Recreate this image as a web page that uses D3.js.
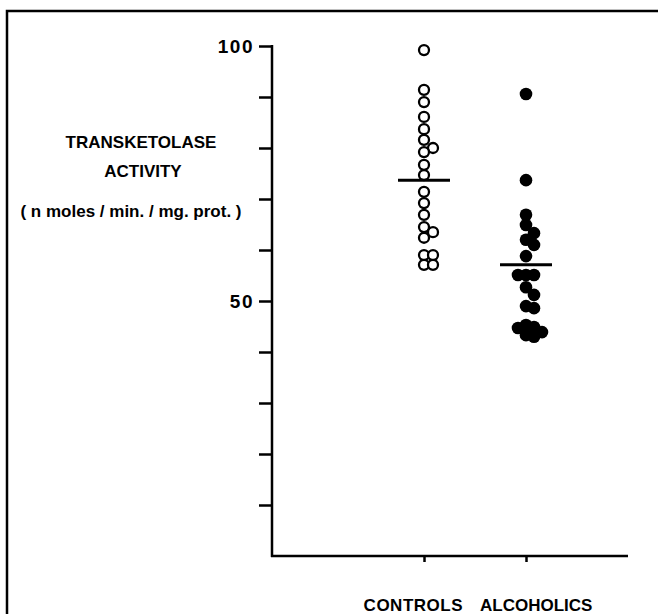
<!DOCTYPE html>
<html>
<head>
<meta charset="utf-8">
<script src="https://cdn.jsdelivr.net/npm/d3@7"></script>
<style>
  html, body { margin: 0; padding: 0; background: #fff; }
  text { font-family: "Liberation Sans", Arial, Helvetica, sans-serif; fill: #000; }
</style>
</head>
<body>
<svg id="chart" width="658" height="614"></svg>
<script>
// ---- data ----
const categories = ["CONTROLS", "ALCOHOLICS"];
const controls = [99.2, 91.4, 89.0, 86.1, 83.7, 81.6, 80.0, 79.2, 76.7, 74.7,
                  71.4, 69.2, 66.9, 64.5, 63.5, 62.4, 59.0, 59.0, 57.1, 57.1];
const alcoholics = [90.6, 73.7, 66.9, 64.9, 63.3, 62.0, 61.0, 58.8, 55.1, 55.1, 55.1,
                    52.7, 51.2, 49.0, 48.6, 45.3, 44.9, 44.7, 43.9, 43.3, 43.0];
const means = [73.7, 57.1];
const yTicks = [10, 20, 30, 40, 50, 60, 70, 80, 90, 100];
const yTickLabels = {100: "100", 50: "50"};
const yTitle = ["TRANSKETOLASE", "ACTIVITY"];
const yUnits = "( n moles / min. / mg. prot. )";

const svg = d3.select("#chart");

// frame (top + left border)
svg.append("path")
  .attr("d", "M7,614 L7,11 L658,11")
  .attr("fill", "none").attr("stroke", "#000").attr("stroke-width", 2.5);

const y = d3.scaleLinear().domain([0, 100]).range([556, 46]);
const x = d3.scalePoint().domain(categories).range([424, 526]);
const axisX0 = 272, axisX1 = 628;

// y axis
const gy = svg.append("g").attr("transform", `translate(${axisX0},0)`)
  .call(d3.axisLeft(y).tickValues(yTicks).tickSize(13).tickPadding(5)
        .tickFormat(d => yTickLabels[d] || ""));
gy.select(".domain").remove();
gy.selectAll(".tick line").attr("stroke", "#000").attr("stroke-width", 2.5);
gy.selectAll(".tick text")
  .style("font-size", "19px").style("font-weight", "bold")
  .style("letter-spacing", "1.5px")
  .attr("dy", "0.36em");
svg.append("line")
  .attr("x1", axisX0).attr("x2", axisX0)
  .attr("y1", y(100) - 1).attr("y2", y(0) + 1)
  .attr("stroke", "#000").attr("stroke-width", 2.5);

// x axis
const gx = svg.append("g").attr("transform", `translate(0,${y(0)})`)
  .call(d3.axisBottom(x).tickSize(6).tickFormat(""));
gx.select(".domain").remove();
gx.selectAll(".tick line").attr("stroke", "#000").attr("stroke-width", 2.5);
svg.append("line")
  .attr("x1", axisX0 - 1).attr("x2", axisX1)
  .attr("y1", y(0)).attr("y2", y(0))
  .attr("stroke", "#000").attr("stroke-width", 2.5);

// category labels
svg.append("text").attr("x", x("CONTROLS") + 39).attr("y", 611)
  .attr("text-anchor", "end").style("font-size", "17px").style("font-weight", "bold")
  .style("letter-spacing", "0.5px").text(categories[0]);
svg.append("text").attr("x", x("ALCOHOLICS") - 46).attr("y", 611)
  .attr("text-anchor", "start").style("font-size", "17px").style("font-weight", "bold")
  .text(categories[1]);

// y title
svg.append("text").attr("x", 141).attr("y", 148).attr("text-anchor", "middle")
  .style("font-size", "17px").style("font-weight", "bold").text(yTitle[0]);
svg.append("text").attr("x", 143).attr("y", 177).attr("text-anchor", "middle")
  .style("font-size", "17px").style("font-weight", "bold").text(yTitle[1]);
svg.append("text").attr("x", 131).attr("y", 217).attr("text-anchor", "middle")
  .style("font-size", "17px").style("font-weight", "bold").text(yUnits);

// simple dodge layout: avoid near-coincident points in one column
function dodge(values, thresh, step) {
  const order = values.map((v, i) => i).sort((a, b) => values[b] - values[a]);
  const placed = [];
  const out = new Array(values.length);
  const offsets = [0, step, -step, 2 * step, -2 * step];
  for (const i of order) {
    const py = y(values[i]);
    let off = offsets[offsets.length - 1];
    for (const o of offsets) {
      if (!placed.some(p => p.o === o && Math.abs(p.y - py) < thresh)) { off = o; break; }
    }
    placed.push({o: off, y: py});
    out[i] = off;
  }
  return out;
}

const dC = dodge(controls, 9, 9);
svg.append("g").selectAll("circle").data(controls).join("circle")
  .attr("cx", (d, i) => x("CONTROLS") + dC[i]).attr("cy", d => y(d))
  .attr("r", 5).attr("fill", "#fff").attr("stroke", "#000").attr("stroke-width", 2.3);

const dA = dodge(alcoholics, 9, 8);
svg.append("g").selectAll("circle").data(alcoholics).join("circle")
  .attr("cx", (d, i) => x("ALCOHOLICS") + dA[i]).attr("cy", d => y(d))
  .attr("r", 6.3).attr("fill", "#000");

// mean bars
svg.append("g").selectAll("line").data(means).join("line")
  .attr("x1", (d, i) => x(categories[i]) - 26).attr("x2", (d, i) => x(categories[i]) + 26)
  .attr("y1", d => y(d)).attr("y2", d => y(d))
  .attr("stroke", "#000").attr("stroke-width", 3);
</script>
</body>
</html>
